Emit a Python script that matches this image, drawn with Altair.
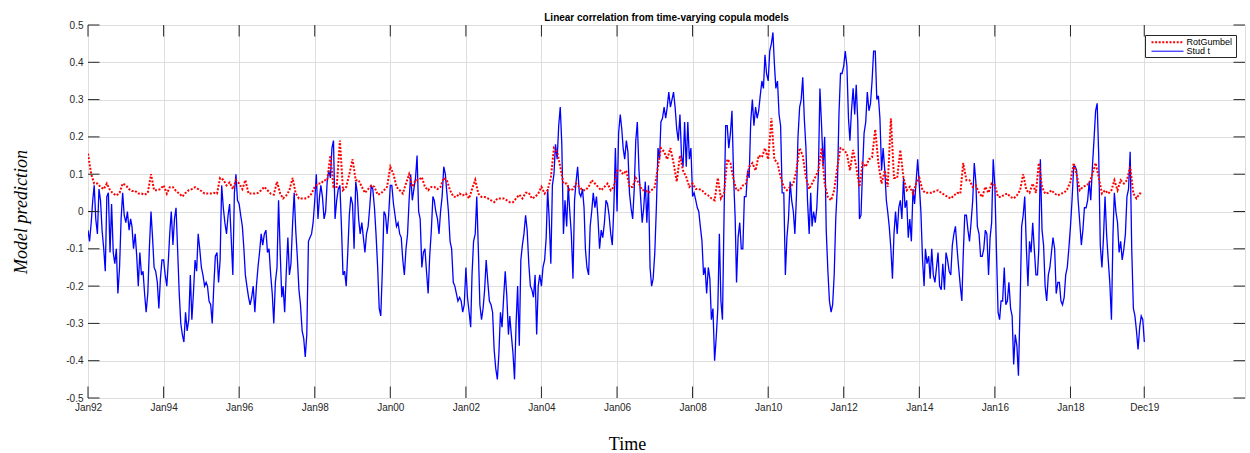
import altair as alt
import pandas as pd

# ---- Stud t copula: semi-monthly readings (1st and 16th of each month), 1992-2019
stud_t = [
    -0.05,-0.08,-0.03,0.03,0.07,-0.02,-0.06,0.06,0.03,-0.05,-0.10,-0.16,0.04,0.05,-0.11,0.02,-0.11,-0.14,-0.10,-0.22,-0.15,-0.02,0.05,-0.01,
    -0.03,0.0,-0.05,-0.02,-0.04,-0.10,-0.06,-0.12,-0.20,-0.11,-0.17,-0.16,-0.22,-0.27,-0.22,-0.10,0.0,-0.07,-0.15,-0.16,-0.19,-0.26,-0.18,-0.13,
    -0.13,-0.17,-0.20,-0.13,-0.06,0.0,-0.09,-0.02,0.01,-0.10,-0.22,-0.30,-0.33,-0.35,-0.27,-0.32,-0.29,-0.17,-0.29,-0.22,-0.13,-0.16,-0.06,-0.10,
    -0.15,-0.17,-0.20,-0.19,-0.20,-0.24,-0.25,-0.30,-0.20,-0.12,-0.11,-0.19,-0.13,0.07,0.01,-0.03,-0.06,-0.01,0.02,-0.07,-0.17,0.05,0.10,0.03,
    0.02,-0.01,-0.04,-0.10,-0.17,-0.20,-0.23,-0.25,-0.23,-0.20,-0.27,-0.20,-0.15,-0.11,-0.06,-0.09,-0.06,-0.05,-0.11,-0.10,-0.17,-0.22,-0.30,-0.19,
    -0.15,0.03,-0.11,-0.23,-0.20,-0.27,-0.16,-0.07,-0.17,-0.14,-0.03,0.05,-0.05,-0.12,-0.21,-0.25,-0.32,-0.34,-0.39,-0.33,-0.08,-0.07,-0.06,-0.03,
    0.03,0.10,-0.02,0.04,0.07,0.04,-0.02,0.0,0.08,0.11,0.09,0.17,0.19,-0.02,0.03,0.06,0.07,-0.04,-0.17,-0.16,-0.20,-0.11,-0.01,0.04,
    0.02,-0.10,0.08,0.05,-0.02,-0.06,-0.03,-0.07,-0.11,-0.06,-0.04,0.01,0.07,0.06,0.01,-0.06,-0.15,-0.26,-0.28,-0.16,0.0,-0.01,-0.06,-0.01,
    0.07,0.07,0.02,-0.01,-0.04,-0.03,-0.06,-0.07,-0.13,-0.17,-0.10,-0.06,0.03,0.10,0.03,0.06,0.09,0.15,0.0,-0.02,-0.15,-0.11,-0.10,-0.16,
    -0.22,-0.12,-0.05,0.04,0.03,0.0,-0.02,-0.06,0.0,0.04,0.12,0.10,0.05,0.0,-0.08,-0.10,-0.19,-0.20,-0.22,-0.24,-0.23,-0.24,-0.27,-0.25,
    -0.15,-0.23,-0.27,-0.31,-0.17,-0.08,-0.06,0.04,-0.10,-0.25,-0.29,-0.26,-0.21,-0.13,-0.19,-0.24,-0.25,-0.27,-0.37,-0.42,-0.45,-0.38,-0.27,-0.31,
    -0.23,-0.16,-0.23,-0.33,-0.28,-0.33,-0.38,-0.45,-0.30,-0.20,-0.36,-0.13,-0.09,-0.06,-0.01,-0.05,-0.14,-0.20,-0.21,-0.23,-0.17,-0.33,-0.20,-0.17,
    -0.20,-0.15,-0.13,-0.07,0.06,-0.02,-0.14,0.07,0.10,0.18,0.14,0.23,0.28,0.18,-0.06,0.03,-0.04,0.07,0.0,-0.06,-0.18,0.03,0.08,0.12,
    0.05,0.04,0.06,0.01,-0.10,-0.15,-0.17,-0.04,0.0,0.05,0.01,0.04,-0.02,-0.10,-0.05,-0.07,-0.03,0.03,0.02,-0.01,-0.06,-0.09,0.01,0.17,
    0.0,0.21,0.26,0.22,0.17,0.14,0.19,0.16,0.05,0.01,-0.02,0.06,0.19,0.24,0.11,0.04,-0.03,0.01,0.08,-0.03,0.07,-0.15,-0.20,-0.18,
    -0.11,0.01,0.17,0.14,0.24,0.25,0.28,0.25,0.28,0.32,0.28,0.30,0.32,0.28,0.22,0.19,0.26,0.15,0.12,0.24,0.12,0.24,0.14,0.17,
    0.04,0.05,0.03,0.01,0.0,-0.04,-0.08,-0.17,-0.15,-0.22,-0.15,-0.18,-0.29,-0.26,-0.40,-0.34,-0.26,-0.06,-0.24,-0.29,0.0,0.23,0.23,0.17,
    0.21,0.27,0.09,-0.02,-0.19,-0.07,-0.03,-0.10,-0.10,0.04,0.04,0.11,0.09,0.24,0.30,0.23,0.28,0.25,0.27,0.31,0.35,0.33,0.42,0.37,
    0.35,0.43,0.45,0.48,0.40,0.33,0.35,0.26,0.23,0.05,0.05,-0.17,-0.07,-0.02,0.08,0.03,0.0,-0.06,0.04,0.20,0.28,0.30,0.36,0.25,
    0.17,0.03,-0.06,0.05,-0.04,0.0,-0.03,0.01,0.10,0.33,0.23,0.12,0.20,-0.05,-0.16,-0.24,-0.27,-0.25,-0.17,-0.02,0.07,0.26,0.37,0.37,
    0.39,0.43,0.39,0.25,0.19,0.27,0.33,0.26,0.34,0.24,-0.02,-0.01,0.11,0.21,0.24,0.32,0.27,0.29,0.35,0.43,0.43,0.30,0.31,0.25,
    0.11,0.17,0.11,0.03,0.0,-0.04,-0.10,-0.18,-0.06,0.0,-0.06,0.01,0.03,-0.02,0.09,0.01,0.03,-0.07,-0.02,-0.08,0.06,0.02,0.08,0.14,
    0.07,0.0,-0.13,-0.20,-0.10,-0.14,-0.12,-0.18,-0.10,-0.17,-0.19,-0.15,-0.11,-0.20,-0.21,-0.14,-0.21,-0.11,-0.13,-0.16,-0.17,-0.09,-0.06,-0.04,
    -0.10,-0.15,-0.20,-0.24,-0.12,-0.01,-0.01,-0.05,-0.08,-0.03,0.03,0.13,0.08,-0.04,-0.06,-0.12,-0.12,-0.10,-0.05,-0.06,-0.17,-0.07,-0.03,0.14,
    0.07,-0.10,-0.27,-0.29,-0.24,-0.24,-0.15,-0.25,-0.24,-0.19,-0.26,-0.28,-0.41,-0.33,-0.36,-0.44,-0.25,-0.04,-0.01,0.04,-0.10,-0.20,-0.08,-0.11,
    -0.03,-0.10,-0.17,-0.17,-0.10,0.14,-0.05,-0.09,-0.20,-0.24,-0.17,-0.15,-0.11,-0.07,-0.10,-0.22,-0.19,-0.19,-0.24,-0.25,-0.23,-0.17,-0.15,-0.10,
    -0.04,0.03,0.12,0.12,0.11,0.03,-0.03,-0.09,-0.05,0.01,0.01,0.03,0.08,0.03,0.12,0.19,0.27,0.29,0.15,-0.09,-0.15,-0.07,0.04,-0.06,
    -0.13,-0.19,-0.29,-0.06,0.05,0.0,-0.03,-0.11,-0.08,-0.13,-0.10,-0.06,0.04,0.06,0.16,-0.10,-0.26,-0.28,-0.32,-0.37,-0.31,-0.28,-0.29,-0.35,
]

# ---- Rotated Gumbel copula: monthly readings, 1992-2019
rot_gumbel = [
    0.155,0.10,0.075,0.075,0.066,0.06,0.075,0.057,0.048,0.043,0.05,0.075,
    0.07,0.06,0.055,0.055,0.048,0.048,0.045,0.05,0.10,0.057,0.057,0.06,
    0.07,0.048,0.065,0.065,0.055,0.048,0.04,0.05,0.057,0.06,0.065,0.06,
    0.055,0.048,0.048,0.048,0.05,0.048,0.09,0.085,0.07,0.078,0.06,0.084,
    0.075,0.06,0.084,0.048,0.048,0.048,0.05,0.057,0.066,0.057,0.048,0.045,
    0.08,0.048,0.035,0.043,0.057,0.09,0.048,0.035,0.035,0.035,0.039,0.048,
    0.066,0.075,0.075,0.084,0.084,0.15,0.066,0.066,0.19,0.057,0.066,0.10,
    0.14,0.084,0.084,0.066,0.05,0.06,0.07,0.066,0.045,0.048,0.057,0.066,
    0.12,0.10,0.066,0.057,0.048,0.075,0.10,0.066,0.084,0.084,0.092,0.066,
    0.057,0.066,0.066,0.06,0.066,0.09,0.084,0.057,0.04,0.039,0.048,0.043,
    0.048,0.035,0.06,0.085,0.048,0.039,0.039,0.035,0.03,0.025,0.035,0.035,
    0.035,0.03,0.025,0.025,0.035,0.045,0.035,0.05,0.05,0.035,0.039,0.048,
    0.066,0.048,0.057,0.09,0.17,0.16,0.12,0.075,0.075,0.057,0.06,0.075,
    0.066,0.057,0.057,0.066,0.084,0.075,0.066,0.057,0.066,0.075,0.057,0.066,
    0.11,0.11,0.10,0.11,0.066,0.066,0.09,0.075,0.057,0.057,0.05,0.057,
    0.066,0.12,0.17,0.16,0.14,0.17,0.13,0.08,0.15,0.11,0.092,0.066,
    0.075,0.06,0.06,0.057,0.048,0.043,0.035,0.03,0.09,0.035,0.05,0.14,
    0.13,0.084,0.057,0.057,0.07,0.075,0.12,0.13,0.11,0.15,0.145,0.17,
    0.14,0.25,0.14,0.13,0.092,0.066,0.057,0.066,0.075,0.11,0.17,0.15,
    0.09,0.06,0.075,0.092,0.11,0.17,0.075,0.039,0.03,0.057,0.12,0.17,
    0.165,0.155,0.11,0.165,0.12,0.066,0.13,0.12,0.14,0.145,0.22,0.13,
    0.075,0.11,0.066,0.25,0.09,0.09,0.165,0.09,0.057,0.066,0.048,0.075,
    0.09,0.057,0.05,0.05,0.05,0.055,0.057,0.05,0.045,0.039,0.035,0.043,
    0.05,0.048,0.13,0.084,0.084,0.066,0.07,0.05,0.039,0.066,0.05,0.075,
    0.07,0.039,0.039,0.045,0.048,0.039,0.035,0.043,0.057,0.10,0.057,0.05,
    0.075,0.05,0.13,0.066,0.048,0.05,0.057,0.048,0.043,0.048,0.05,0.06,
    0.08,0.13,0.10,0.057,0.066,0.07,0.075,0.10,0.13,0.092,0.048,0.057,
    0.048,0.057,0.084,0.057,0.084,0.075,0.084,0.12,0.048,0.035,0.048,0.048,
]

years = list(range(1992, 2020))
stud_t_dates = [f"{y}-{m:02d}-{d:02d}" for y in years for m in range(1, 13) for d in (1, 16)]
rot_gumbel_dates = [f"{y}-{m:02d}-01" for y in years for m in range(1, 13)]

series_names = ["RotGumbel", "Stud t"]
series_colors = ["#ff0000", "#0000ff"]
x_tick_dates = ["1992-01-01", "1994-01-01", "1996-01-01", "1998-01-01", "2000-01-01",
                "2002-01-01", "2004-01-01", "2006-01-01", "2008-01-01", "2010-01-01",
                "2012-01-01", "2014-01-01", "2016-01-01", "2018-01-01", "2019-12-15"]
x_domain_dates = ["1992-01-01", "2022-08-15"]
y_ticks = [-0.5, -0.4, -0.3, -0.2, -0.1, 0, 0.1, 0.2, 0.3, 0.4, 0.5]

def to_ms(dates):
    return [int(v) for v in (pd.to_datetime(dates, utc=True).astype("int64") // 10**6)]

W, H = 1157, 373
TL = 11.5
AX_COLOR = "#262626"
SANS = "Liberation Sans"
SERIF = "Liberation Serif"
RED_DASH = [2, 1.6]

blue_df = pd.DataFrame({"date": stud_t_dates, "value": stud_t, "series": series_names[1]})
red_df = pd.DataFrame({"date": rot_gumbel_dates, "value": rot_gumbel, "series": series_names[0]})
xt_df = pd.DataFrame({"date": x_tick_dates})
yt_df = pd.DataFrame({"value": y_ticks})
one_df = pd.DataFrame({"k": [0]})

xscale = alt.Scale(type="utc", domain=to_ms(x_domain_dates))
yscale = alt.Scale(domain=[-0.5, 0.5], nice=False, zero=False)

xaxis = alt.Axis(
    values=to_ms(x_tick_dates), labelExpr="utcFormat(datum.value, '%b%y')",
    grid=True, gridColor="#dedede", gridWidth=1, ticks=False, domain=False,
    labelFont=SANS, labelFontSize=10, labelColor=AX_COLOR, labelPadding=4,
    labelFlush=False, labelOverlap=False,
    title="Time", titleFont=SERIF, titleFontSize=18, titleFontWeight="normal",
    titleColor="black", titleX=539, titleY=51, titleBaseline="alphabetic", titleAlign="center",
)
yaxis = alt.Axis(
    values=y_ticks, labelExpr="'' + datum.value",
    grid=True, gridColor="#dedede", gridWidth=1, ticks=False, domain=False,
    labelFont=SANS, labelFontSize=10, labelColor=AX_COLOR, labelPadding=5,
    title="Model prediction", titleFont=SERIF, titleFontSize=18, titleFontStyle="italic",
    titleFontWeight="normal", titleColor="black", titleAngle=270,
    titleX=-67, titleY=H / 2, titleBaseline="middle", titleAlign="center",
)

X = alt.X("date:T", scale=xscale, axis=xaxis)
Y = alt.Y("value:Q", scale=yscale, axis=yaxis)

blue = alt.Chart(blue_df).mark_line(strokeWidth=1.3, clip=True, color=series_colors[1]).encode(x=X, y=Y)
red = alt.Chart(red_df).mark_line(strokeWidth=2, clip=True, color=series_colors[0],
                                  strokeDash=RED_DASH).encode(x=X, y=Y)

tick_top = alt.Chart(xt_df).mark_rule(color=AX_COLOR, strokeWidth=1).encode(x=X, y=alt.value(0), y2=alt.value(TL))
tick_bot = alt.Chart(xt_df).mark_rule(color=AX_COLOR, strokeWidth=1).encode(x=X, y=alt.value(H - TL), y2=alt.value(H))
tick_left = alt.Chart(yt_df).mark_rule(color=AX_COLOR, strokeWidth=1).encode(y=Y, x=alt.value(0), x2=alt.value(TL))
tick_right = alt.Chart(yt_df).mark_rule(color=AX_COLOR, strokeWidth=1).encode(y=Y, x=alt.value(W - TL), x2=alt.value(W))

# legend box (MATLAB style, inside the top-right corner)
LX0, LX1, LY0, LY1 = 1057.5, 1148.5, 10.5, 32.5
ROW1, ROW2 = 17.2, 26.2
leg_box = alt.Chart(one_df).mark_rect(fill="white", stroke=AX_COLOR, strokeWidth=1).encode(
    x=alt.value(LX0), x2=alt.value(LX1), y=alt.value(LY0), y2=alt.value(LY1))
leg_red = alt.Chart(one_df).mark_rule(color=series_colors[0], strokeWidth=2, strokeDash=RED_DASH).encode(
    x=alt.value(LX0 + 6), x2=alt.value(LX0 + 38), y=alt.value(ROW1))
leg_blue = alt.Chart(one_df).mark_rule(color=series_colors[1], strokeWidth=1).encode(
    x=alt.value(LX0 + 6), x2=alt.value(LX0 + 38), y=alt.value(ROW2))
leg_t1 = alt.Chart(one_df).mark_text(align="left", baseline="middle", font=SANS, fontSize=9, color="black").encode(
    x=alt.value(LX0 + 41), y=alt.value(ROW1), text=alt.value(series_names[0]))
leg_t2 = alt.Chart(one_df).mark_text(align="left", baseline="middle", font=SANS, fontSize=9, color="black").encode(
    x=alt.value(LX0 + 41), y=alt.value(ROW2), text=alt.value(series_names[1]))

chart = alt.layer(
    blue, red, tick_top, tick_bot, tick_left, tick_right,
    leg_box, leg_red, leg_blue, leg_t1, leg_t2,
).properties(
    width=W, height=H,
    title=alt.TitleParams("Linear correlation from time-varying copula models", font=SANS,
                          fontSize=10, fontWeight="bold", color="black", offset=-13,
                          baseline="bottom", anchor="middle"),
    autosize=alt.AutoSizeParams(type="none"),
    padding={"left": 88, "top": 25, "right": 5, "bottom": 55},
).configure_view(stroke="#3a3a3a", strokeWidth=1).configure(background="white")

chart.save("out.html", embed_options={"renderer": "svg", "actions": False})
